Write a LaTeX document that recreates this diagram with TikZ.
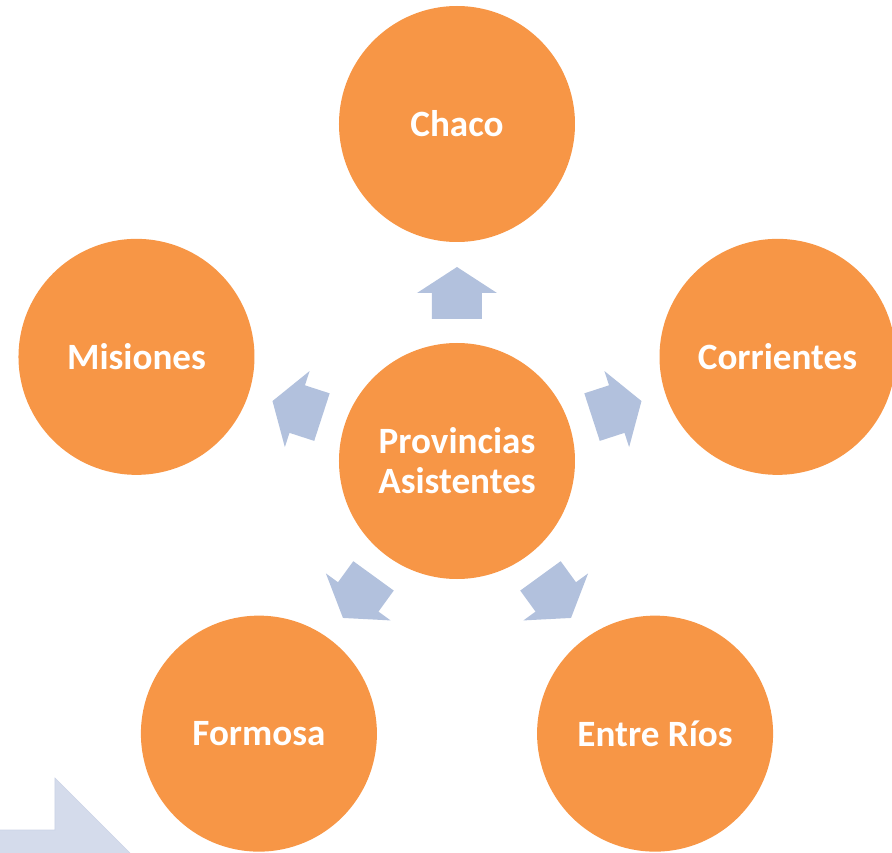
\documentclass[tikz,border=0pt]{standalone}
\usepackage{fontspec}
\setmainfont{Carlito}
\usepackage{tikz}

\definecolor{provorange}{HTML}{F79646}
\definecolor{arrowblue}{HTML}{B2C1DD}
\definecolor{bigarrowfill}{HTML}{D4DBEB}
\definecolor{bigarrowline}{HTML}{CBD3E6}

\tikzset{
  province/.style={circle, fill=provorange, minimum size=5.9cm, inner sep=0pt,
    text=white, font=\fontsize{26.4}{28.45}\selectfont\bfseries, align=center},
  blockarrow/.style={fill=arrowblue}
}

\begin{document}
\begin{tikzpicture}[scale=1.0]
        \useasboundingbox (-11.425,-9.8) rectangle (10.875,11.525);

        % Background arrow, cut by the corner
        \begin{scope}
            \clip (-11.425,-9.8) rectangle (10.875,11.525);
            \draw[fill=bigarrowfill, draw=bigarrowline] (-12,-9.225) -- (-10.05,-9.225) -- (-10.05,-7.925) -- (-7.2,-10.775) -- (-12,-10.775) -- cycle;
        \end{scope}

        % Center
        \node[province] (center) at (0,0) {Provincias\\Asistentes};

        % Provinces
        \node[province] (chaco) at (90:8.425) {Chaco};
        \node[province] (corrientes) at (18:8.425) {Corrientes};
        \node[province] (entrerios) at (-54:8.425) {Entre Ríos};
        \node[province] (formosa) at (-126:8.425) {Formosa};
        \node[province] (misiones) at (162:8.425) {Misiones};

        % Block arrows
        \foreach \a in {90,18,-54,-126,162}
            \fill[blockarrow, shift={(center)}, rotate=\a] (3.55,-0.625) -- (4.2,-0.625) -- (4.2,-1) -- (4.85,0) -- (4.2,1) -- (4.2,0.625) -- (3.55,0.625) -- cycle;
    \end{tikzpicture}
\end{document}
